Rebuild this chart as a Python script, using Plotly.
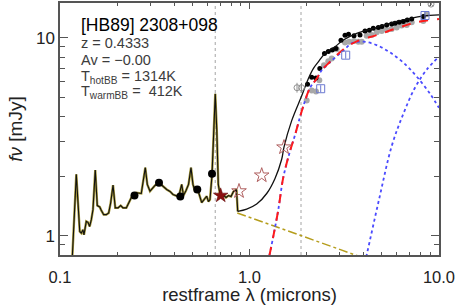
import plotly.graph_objects as go

# ---------------- data (restframe wavelength in microns, flux in mJy) ----------------
spec_lam = [0.1155, 0.1219, 0.1271, 0.1296, 0.1322, 0.1338, 0.1376, 0.1405, 0.1434, 0.1463,
            0.1493, 0.1535, 0.1573, 0.1620, 0.1651, 0.1700, 0.1755, 0.1807, 0.1851, 0.1905,
            0.1957, 0.2023, 0.2091, 0.2150, 0.2239, 0.2332, 0.2398, 0.2527, 0.2685, 0.2819,
            0.2889, 0.2985, 0.3172, 0.3330, 0.3453, 0.3657, 0.3806, 0.3948, 0.4145, 0.4272,
            0.4387, 0.4484, 0.4624, 0.4767, 0.4912, 0.5031, 0.5158, 0.5350, 0.5596, 0.5752,
            0.5942, 0.6074, 0.6187, 0.6340, 0.6457, 0.6597, 0.6718, 0.6844, 0.6989, 0.7161,
            0.7335, 0.7516, 0.7747, 0.7987, 0.8233, 0.8539, 0.8665]
spec_flux = [0.70, 2.044, 1.052, 1.032, 1.073, 1.012, 1.182, 1.169, 1.115, 1.206,
             1.356, 2.149, 1.421, 1.400, 1.345, 1.279, 1.279, 1.305, 1.467, 1.803,
             1.384, 1.384, 1.421, 1.384, 1.384, 1.495, 1.585, 1.649, 1.636, 2.211,
             1.818, 1.681, 1.796, 1.854, 1.796, 1.714, 1.675, 1.617, 1.589, 1.636,
             1.818, 1.598, 1.694, 1.818, 2.211, 1.818, 1.681, 1.694, 1.472, 1.525,
             1.585, 1.489, 1.525, 2.020, 3.462, 5.220, 3.462, 1.818, 1.617, 1.579,
             1.598, 1.561, 1.598, 1.579, 1.675, 1.714, 1.329]

# total model (black solid)
model_lam = [0.8665, 0.9666, 1.0914, 1.2326, 1.3634, 1.4787, 1.5206, 1.6699, 1.8860, 2.0434,
             2.1715, 2.3075, 2.5023, 2.8265, 3.1261, 3.6791, 4.4999, 5.5135, 6.7532, 8.2639, 10.0]
model_flux = [1.329, 1.364, 1.447, 1.636, 1.950, 2.437, 2.804, 3.817, 5.098, 6.222,
              6.996, 7.566, 8.339, 9.020, 9.746, 10.54, 11.18, 11.85, 12.42, 12.91, 13.06]

# power-law (accretion disk) extension (olive dash-dot)
pl_lam = [0.862, 1.87, 4.0, 10.0]
pl_flux = [1.305, 1.002, 0.778, 0.566]

# hot + warm dust (red dashed)
dust_lam = [1.2721, 1.3351, 1.4191, 1.5078, 1.6358, 1.7387, 1.8478, 1.9634, 2.0862, 2.2624,
            2.4044, 2.6597, 3.1261, 3.6791, 4.6913, 5.9798, 7.6261, 10.0]
dust_flux = [0.791, 0.992, 1.356, 1.973, 2.676, 3.228, 3.986, 4.807, 5.600, 6.222,
             6.858, 7.566, 8.740, 9.598, 10.33, 11.18, 11.99, 12.46]

# hot blackbody (blue dotted)
hot_lam = [1.2721, 1.3351, 1.4191, 1.5078, 1.6358, 1.7387, 1.8478, 1.9634, 2.0862, 2.2624,
           2.4044, 2.6597, 3.1261, 3.4623, 3.9857, 4.6913, 5.5135, 6.4803, 7.6261, 8.9670, 10.0]
hot_flux = [0.791, 0.992, 1.356, 1.973, 2.676, 3.228, 3.986, 4.807, 5.600, 6.222,
            6.858, 7.54, 8.62, 9.376, 9.565, 9.191, 8.437, 7.504, 6.370, 5.220, 4.43]

# warm blackbody (blue dotted)
warm_lam = [3.877, 4.153, 4.825, 5.628, 6.480, 7.470, 8.612, 10.0]
warm_flux = [0.597, 0.800, 1.525, 2.838, 4.128, 5.600, 6.915, 8.024]

# photometry: optical (big black dots)
opt_lam = [0.2472, 0.3330, 0.4313, 0.5302, 0.6340]
opt_flux = [1.598, 1.854, 1.579, 1.714, 2.061]

# stars
star_fill_lam = [0.7047]
star_fill_flux = [1.598]
star_open_lam = [0.8803, 1.160, 1.521]
star_open_flux = [1.681, 2.020, 2.800]

# IR spectrum points (black)
irs_lam = [2.0236, 2.1291, 2.2433, 2.3496, 2.4874, 2.6047, 2.7345, 2.8608, 3.0395, 3.1915,
           3.3298, 3.5604, 3.8299, 4.0693, 4.2875, 4.4999, 4.7826, 5.0025, 5.2966, 5.6284,
           5.8601, 6.1518, 6.4803, 6.8031, 7.1778, 8.2639]
irs_flux = [5.834, 6.332, 6.274, 6.996, 8.339, 8.537, 8.689, 8.843, 9.712, 10.30,
            10.42, 10.26, 10.33, 10.83, 10.92, 11.18, 11.27, 11.40, 11.62, 11.75,
            11.85, 11.99, 12.09, 12.32, 12.46, 12.82]

# IR spectrum points, host-subtracted (gray)
irg_lam = [2.0037, 2.1291, 2.2433, 2.3350, 2.4720, 2.6047, 2.7150, 2.8853, 3.1915, 3.3622,
           3.5604, 3.7523, 3.9103, 4.1543, 4.4139, 4.6913, 4.9843, 5.2966, 5.6284, 5.9798,
           6.3563, 6.7532, 7.1778, 8.2639, 8.6111]
irg_flux = [4.825, 5.424, 5.361, 6.100, 7.272, 7.619, 7.864, 8.770, 9.486, 9.565,
            9.632, 9.565, 9.565, 10.26, 10.33, 10.67, 10.83, 10.96, 11.09, 11.27,
            11.54, 11.62, 11.99, 12.18, 13.17]

# box markers and gray circled markers
box_lam = [2.375, 3.219, 8.437]
box_flux = [5.534, 8.177, 12.97]
circ_lam = [1.781, 1.881]
circ_flux = [5.60, 5.60]
cx_lam = [9.076]
cx_flux = [14.81]

vlines = [0.6597, 1.87]

x_tickvals = [0.1, 1.0, 10.0]
x_ticktext = ["0.1", "1.0", "10.0"]
y_tickvals = [1, 10]
y_ticktext = ["1", "10"]

title_text = "[HB89] 2308+098"
info_lines = ["z = 0.4333", "Av = \u22120.00",
              "T<sub>hotBB</sub> = 1314K", "T<sub>warmBB</sub> =  412K"]

# ---------------- figure ----------------
fig = go.Figure()
FONT = "Liberation Sans"

for v in vlines:
    fig.add_trace(go.Scatter(x=[v, v], y=[0.8, 15], mode="lines",
                             line=dict(color="#b4b4b4", width=1.2, dash="dot"),
                             hoverinfo="skip", showlegend=False))

# IR photometry/spectra drawn first so the model curves stay visible on top
fig.add_trace(go.Scatter(x=irg_lam, y=irg_flux, mode="markers",
                         marker=dict(color="#a8a8a8", size=6), showlegend=False))
fig.add_trace(go.Scatter(x=irs_lam, y=irs_flux, mode="markers",
                         marker=dict(color="#000000", size=5), showlegend=False))

fig.add_trace(go.Scatter(x=pl_lam, y=pl_flux, mode="lines",
                         line=dict(color="#b59d1c", width=1.5, dash="dashdot"), showlegend=False))
fig.add_trace(go.Scatter(x=warm_lam, y=warm_flux, mode="lines", line_shape="spline",
                         line=dict(color="#4a4aff", width=1.8, dash="dot"), showlegend=False))
fig.add_trace(go.Scatter(x=hot_lam, y=hot_flux, mode="lines", line_shape="spline",
                         line=dict(color="#4a4aff", width=1.8, dash="dot"), showlegend=False))
fig.add_trace(go.Scatter(x=dust_lam, y=dust_flux, mode="lines", line_shape="spline",
                         line=dict(color="#ff1a1a", width=2, dash="dash"), showlegend=False))

fig.add_trace(go.Scatter(x=spec_lam, y=spec_flux, mode="lines",
                         line=dict(color="#a89a3a", width=2.4), showlegend=False))
fig.add_trace(go.Scatter(x=spec_lam, y=spec_flux, mode="lines",
                         line=dict(color="#111111", width=1.1), showlegend=False))
fig.add_trace(go.Scatter(x=model_lam, y=model_flux, mode="lines", line_shape="spline",
                         line=dict(color="#111111", width=1.3), showlegend=False))

fig.add_trace(go.Scatter(x=opt_lam, y=opt_flux, mode="markers",
                         marker=dict(color="#000000", size=8), showlegend=False))

fig.add_trace(go.Scatter(x=star_fill_lam, y=star_fill_flux, mode="markers",
                         marker=dict(symbol="star", color="#8b1010", size=11,
                                     line=dict(color="#5a0000", width=0.5)), showlegend=False))
fig.add_trace(go.Scatter(x=star_open_lam, y=star_open_flux, mode="markers",
                         marker=dict(symbol="star-open", color="#b06060", size=11,
                                     line=dict(width=1)), showlegend=False))

fig.add_trace(go.Scatter(x=box_lam, y=box_flux, mode="markers",
                         marker=dict(symbol="square-open", color="#6a78d0", size=8,
                                     line=dict(width=1)), showlegend=False))
fig.add_trace(go.Scatter(x=box_lam, y=box_flux, mode="markers",
                         marker=dict(symbol="line-ns-open", color="#6a78d0", size=5,
                                     line=dict(width=1, color="#6a78d0")), showlegend=False))
fig.add_trace(go.Scatter(x=circ_lam, y=circ_flux, mode="markers",
                         marker=dict(symbol="circle-open", color="#909090", size=6,
                                     line=dict(width=1)), showlegend=False))
fig.add_trace(go.Scatter(x=circ_lam, y=circ_flux, mode="markers",
                         marker=dict(symbol="line-ns-open", color="#909090", size=7,
                                     line=dict(width=1, color="#909090")), showlegend=False))
fig.add_trace(go.Scatter(x=cx_lam, y=cx_flux, mode="markers",
                         marker=dict(symbol="circle-x-open", color="#909090", size=6,
                                     line=dict(width=1)), showlegend=False))

fig.add_annotation(x=0.05, y=0.913, xref="paper", yref="paper", xanchor="left", yanchor="middle",
                   text=title_text, showarrow=False,
                   font=dict(family=FONT, size=17.5, color="#000000"))
info_y = [0.841, 0.774, 0.707, 0.645]
for t, yy in zip(info_lines, info_y):
    fig.add_annotation(x=0.05, y=yy, xref="paper", yref="paper",
                       xanchor="left", yanchor="middle", text=t, showarrow=False,
                       font=dict(family=FONT, size=14.5, color="#3c3c3c"))

axis_common = dict(type="log", showline=True, linecolor="#555555", linewidth=1.5,
                   mirror="allticks", ticks="inside", tickcolor="#555555",
                   showgrid=False, zeroline=False, automargin=False,
                   ticklabeloverflow="allow")

fig.update_xaxes(**axis_common, range=[-1, 1], tickvals=x_tickvals, ticktext=x_ticktext,
                 ticklen=6, tickwidth=1.2, ticklabelstandoff=6,
                 tickfont=dict(family=FONT, size=16.5, color="#222222"),
                 minor=dict(ticks="inside", ticklen=3, tickcolor="#555555",
                            tickvals=[0.2, 0.3, 0.4, 0.5, 0.6, 0.7, 0.8, 0.9,
                                      2, 3, 4, 5, 6, 7, 8, 9]),
                 title=dict(text="restframe \u03bb (microns)", standoff=2,
                            font=dict(family=FONT, size=18.5, color="#222222")))
fig.update_yaxes(**axis_common, range=[-0.0969, 1.1761], tickvals=y_tickvals,
                 ticktext=y_ticktext, ticklen=8, tickwidth=1.2,
                 tickfont=dict(family=FONT, size=17, color="#222222"),
                 minor=dict(ticks="inside", ticklen=5, tickcolor="#555555",
                            tickvals=[0.9, 2, 3, 4, 5, 6, 7, 8, 9]),
                 title=dict(text="<i>f\u03bd</i> [mJy]", standoff=8,
                            font=dict(family=FONT, size=19, color="#222222")))

fig.update_layout(width=458, height=305, margin=dict(l=60, r=19, t=3, b=50),
                  plot_bgcolor="white", paper_bgcolor="white")

fig.write_html("out.html", config={"displayModeBar": False},
               post_script="document.body.style.margin='0';document.body.style.overflow='hidden';")
